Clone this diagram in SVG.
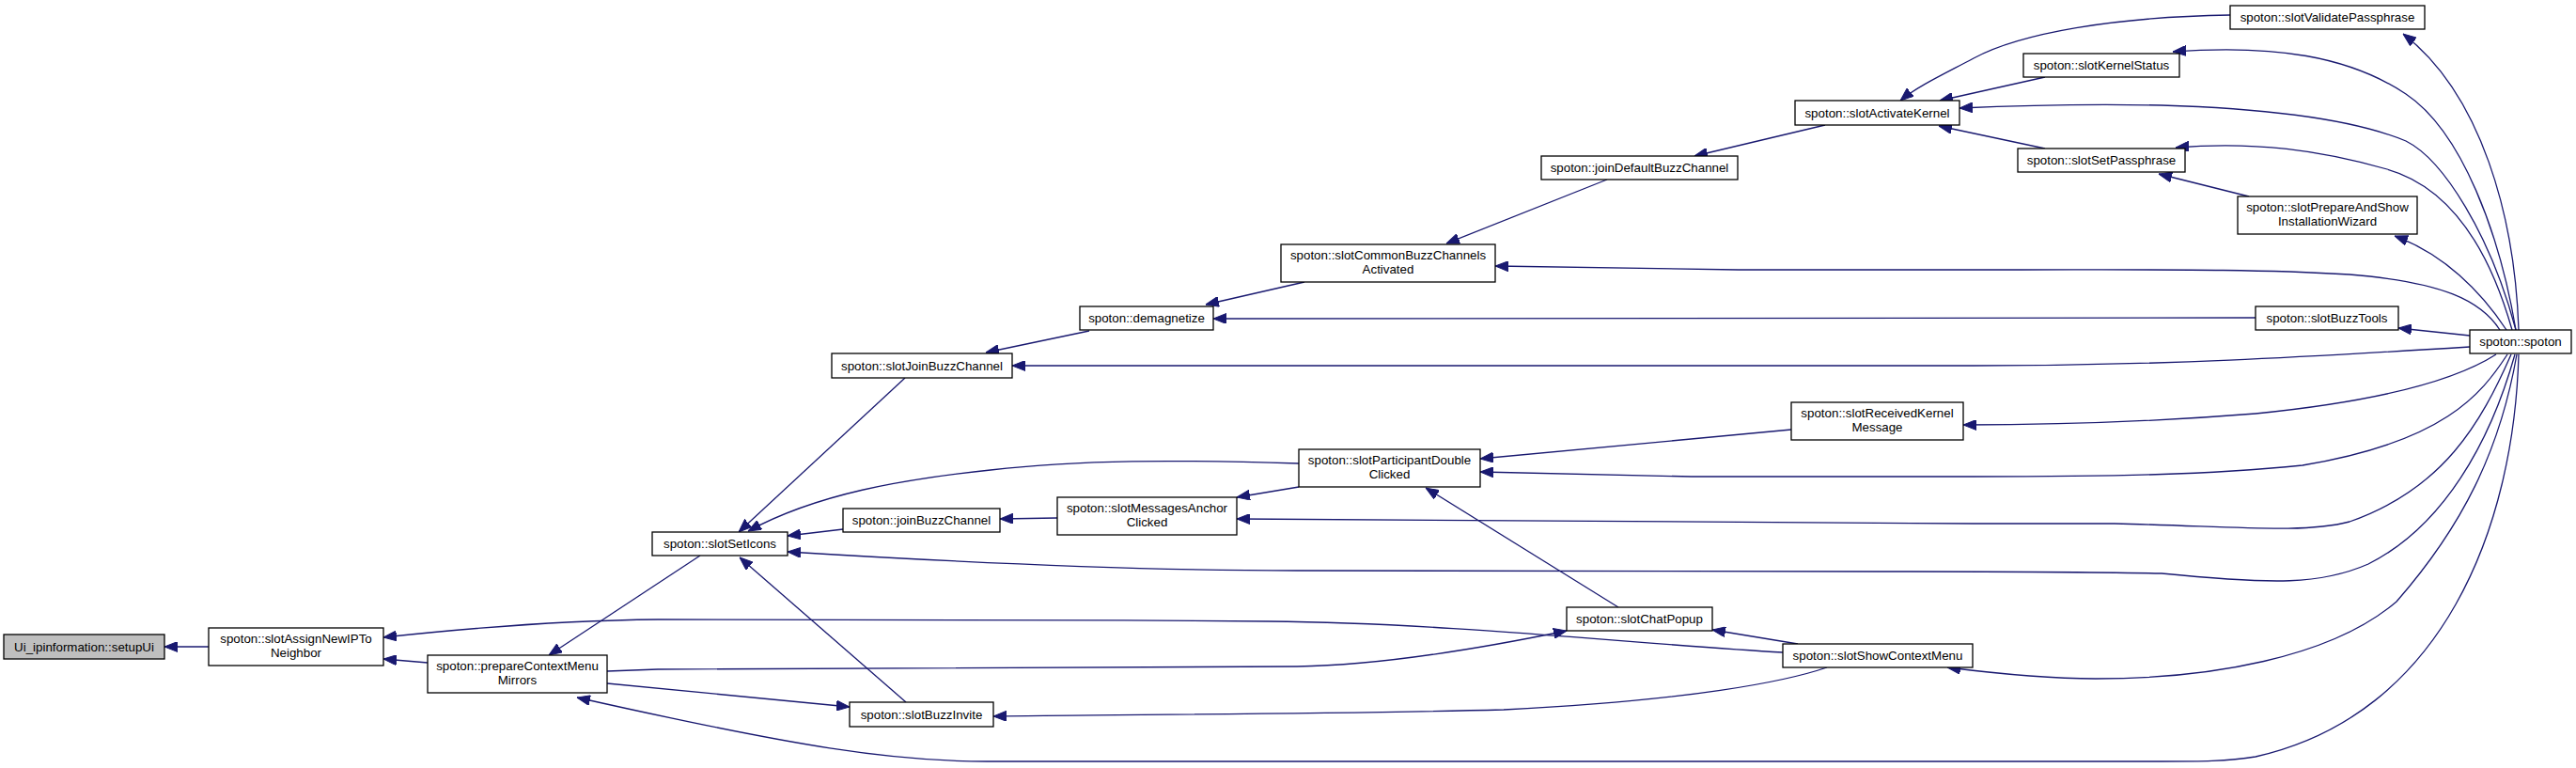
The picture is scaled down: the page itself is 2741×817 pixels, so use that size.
<svg xmlns="http://www.w3.org/2000/svg" width="2741" height="817" viewBox="0 0 2741 817">
<style>
.n rect{fill:#ffffff;stroke:#000000;stroke-width:1.3}
.n.root rect{fill:#bfbfbf}
.n text{font-family:"Liberation Sans",Arial,sans-serif;font-size:13.33px;fill:#000000;text-anchor:middle}
.e path{fill:none;stroke:#191970;stroke-width:1.3;marker-end:url(#ah)}
</style>
<defs>
<marker id="ah" viewBox="0 0 14 11" refX="14" refY="5.5" markerWidth="14" markerHeight="11" markerUnits="userSpaceOnUse" orient="auto">
<path d="M0,0 L14,5.5 L0,11 z" fill="#191970" stroke="#191970" stroke-width="1"/>
</marker>
</defs>
<rect x="0" y="0" width="2741" height="817" fill="#ffffff"/>
<g id="edges" class="e">
<path d="M222,688 L175,688"/>
<path d="M455,705 L408,701"/>
<path d="M1897,694 C1750,686 1550,663 1350,661 C1100,659 800,658 700,659 C600,660 500,668 408,678"/>
<path d="M745,591 L584,697"/>
<path d="M963,402 L786,566"/>
<path d="M1382,493 C1250,489 1150,489 1054,500 C960,510 870,525 796,565"/>
<path d="M897,563 L838,570"/>
<path d="M2676,377 C2650,470 2600,560 2520,600 C2470,622 2420,622 2300,610 C2200,608 2100,608 2000,608 L1380,607 C1200,607 1000,597 838,587"/>
<path d="M964,747 L787,593"/>
<path d="M646,727 C720,734 800,742 904,752"/>
<path d="M646,714 L700,712 L1380,709 C1450,708 1550,695 1667,671"/>
<path d="M1944,710 C1900,725 1800,745 1600,755 C1400,760 1200,760 1057,762"/>
<path d="M1913,685 L1822,670"/>
<path d="M1722,646 L1517,519"/>
<path d="M1382,518 L1316,529"/>
<path d="M1125,551 L1064,552"/>
<path d="M2672,377 C2640,450 2600,520 2500,555 C2450,568 2380,560 2250,557 L2100,557 C1900,557 1700,553 1316,552"/>
<path d="M2668,377 C2640,420 2600,470 2450,495 C2350,505 2250,507 2100,507 L1800,507 C1700,505 1620,503 1575,502"/>
<path d="M1906,457 L1575,488"/>
<path d="M2656,377 C2620,400 2550,425 2400,440 C2300,448 2200,452 2089,452"/>
<path d="M2628,369 C2450,380 2300,389 2100,389 L1077,389"/>
<path d="M2400,338 L1291,339"/>
<path d="M2628,357 L2552,349"/>
<path d="M1159,352 L1049,375"/>
<path d="M1388,300 L1283,324"/>
<path d="M2660,351 C2640,320 2600,300 2500,292 C2400,286 2300,287 2150,287 L1850,287 C1750,286 1650,284 1591,283"/>
<path d="M1710,191 L1539,259"/>
<path d="M1942,133 L1803,166"/>
<path d="M2373,16 C2250,18 2150,35 2100,62 C2070,78 2040,92 2022,107"/>
<path d="M2176,82 L2064,107"/>
<path d="M2677,351 C2650,250 2600,170 2560,150 C2500,125 2400,115 2300,112 C2200,110 2130,113 2085,115"/>
<path d="M2176,158 L2063,134"/>
<path d="M2677,351 C2660,250 2620,140 2560,100 C2500,60 2420,47 2312,55"/>
<path d="M2680,351 C2676,230 2640,100 2557,36"/>
<path d="M2673,351 C2650,270 2610,200 2540,180 C2470,160 2400,150 2315,157"/>
<path d="M2393,209 L2297,185"/>
<path d="M2667,351 C2640,310 2600,270 2548,251"/>
<path d="M2678,377 C2660,480 2620,560 2550,640 C2480,700 2350,722 2230,722 C2180,722 2120,716 2072,710"/>
<path d="M2680,377 C2675,560 2600,760 2400,805 C2370,810 2340,810 2300,810 L1050,810 C950,810 850,795 614,742"/>
</g>
<g id="node-setupUi" class="n root"><rect x="4" y="675" width="171" height="26"/><text x="89.5" y="692.5">Ui_ipinformation::setupUi</text></g>
<g id="node-slotAssignNewIPToNeighbor" class="n"><rect x="222" y="668" width="186" height="40"/><text x="315" y="683.5">spoton::slotAssignNewIPTo</text><text x="315" y="698.5">Neighbor</text></g>
<g id="node-prepareContextMenuMirrors" class="n"><rect x="455" y="697" width="191" height="40"/><text x="550.5" y="712.5">spoton::prepareContextMenu</text><text x="550.5" y="727.5">Mirrors</text></g>
<g id="node-slotSetIcons" class="n"><rect x="694" y="566" width="144" height="25"/><text x="766" y="583">spoton::slotSetIcons</text></g>
<g id="node-slotJoinBuzzChannel" class="n"><rect x="885" y="376" width="192" height="26"/><text x="981" y="393.5">spoton::slotJoinBuzzChannel</text></g>
<g id="node-joinBuzzChannel" class="n"><rect x="897" y="541" width="167" height="25"/><text x="980.5" y="558">spoton::joinBuzzChannel</text></g>
<g id="node-slotBuzzInvite" class="n"><rect x="904" y="747" width="153" height="26"/><text x="980.5" y="764.5">spoton::slotBuzzInvite</text></g>
<g id="node-demagnetize" class="n"><rect x="1149" y="326" width="142" height="25"/><text x="1220" y="343">spoton::demagnetize</text></g>
<g id="node-slotMessagesAnchorClicked" class="n"><rect x="1125" y="529" width="191" height="40"/><text x="1220.5" y="544.5">spoton::slotMessagesAnchor</text><text x="1220.5" y="559.5">Clicked</text></g>
<g id="node-slotCommonBuzzChannelsActivated" class="n"><rect x="1363" y="260" width="228" height="40"/><text x="1477" y="275.5">spoton::slotCommonBuzzChannels</text><text x="1477" y="290.5">Activated</text></g>
<g id="node-slotParticipantDoubleClicked" class="n"><rect x="1382" y="478" width="193" height="40"/><text x="1478.5" y="493.5">spoton::slotParticipantDouble</text><text x="1478.5" y="508.5">Clicked</text></g>
<g id="node-joinDefaultBuzzChannel" class="n"><rect x="1640" y="166" width="209" height="25"/><text x="1744.5" y="183">spoton::joinDefaultBuzzChannel</text></g>
<g id="node-slotChatPopup" class="n"><rect x="1667" y="646" width="155" height="25"/><text x="1744.5" y="663">spoton::slotChatPopup</text></g>
<g id="node-slotActivateKernel" class="n"><rect x="1910" y="107" width="175" height="26"/><text x="1997.5" y="124.5">spoton::slotActivateKernel</text></g>
<g id="node-slotReceivedKernelMessage" class="n"><rect x="1906" y="428" width="183" height="40"/><text x="1997.5" y="443.5">spoton::slotReceivedKernel</text><text x="1997.5" y="458.5">Message</text></g>
<g id="node-slotShowContextMenu" class="n"><rect x="1897" y="685" width="202" height="25"/><text x="1998" y="702">spoton::slotShowContextMenu</text></g>
<g id="node-slotKernelStatus" class="n"><rect x="2153" y="57" width="166" height="25"/><text x="2236" y="74">spoton::slotKernelStatus</text></g>
<g id="node-slotSetPassphrase" class="n"><rect x="2147" y="158" width="178" height="25"/><text x="2236" y="175">spoton::slotSetPassphrase</text></g>
<g id="node-slotValidatePassphrase" class="n"><rect x="2373" y="6" width="207" height="25"/><text x="2476.5" y="23">spoton::slotValidatePassphrase</text></g>
<g id="node-slotPrepareAndShowInstallationWizard" class="n"><rect x="2381" y="209" width="191" height="40"/><text x="2476.5" y="224.5">spoton::slotPrepareAndShow</text><text x="2476.5" y="239.5">InstallationWizard</text></g>
<g id="node-slotBuzzTools" class="n"><rect x="2400" y="326" width="152" height="25"/><text x="2476" y="343">spoton::slotBuzzTools</text></g>
<g id="node-spoton" class="n"><rect x="2628" y="351" width="108" height="25"/><text x="2682" y="368">spoton::spoton</text></g>
</svg>
